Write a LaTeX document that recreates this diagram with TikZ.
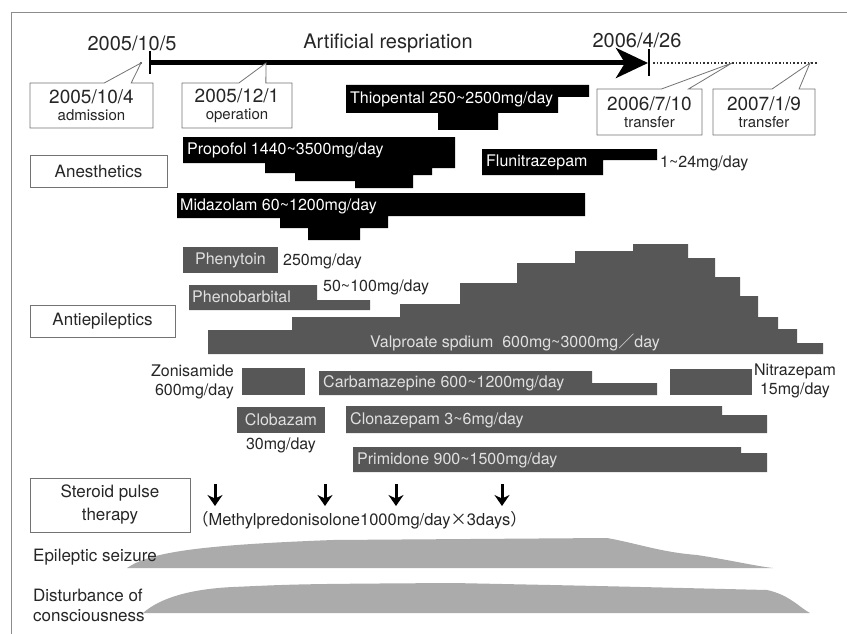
\documentclass[tikz,border=0pt]{standalone}
\usepackage{fontspec}
\setmainfont{TeX Gyre Heros}
\newfontfamily\cjk{Noto Sans CJK JP}
\usetikzlibrary{arrows.meta,positioning,shapes.callouts}
\newcommand{\tld}{\textasciitilde}
\newcommand{\fsz}[2]{\fontsize{#1}{#2}\selectfont}

\begin{document}
\begin{tikzpicture}[x=1pt,y=-1pt,
  tag/.style={rectangle callout, draw=black!55, fill=white, line width=0.8pt,
    callout pointer width=27pt, inner sep=0pt, align=center, text=black!85},
  catbox/.style={draw=black!55, line width=0.8pt, inner sep=0pt, align=center,
    text=black!85, font=\fsz{17}{23}},
  anbar/.style={fill=black},
  epbar/.style={fill=black!66},
  barlab/.style={text=white, anchor=west, inner sep=0pt, font=\fsz{16}{18}},
  eplab/.style={text=black!12, inner sep=0pt, font=\fsz{16}{18}},
  note/.style={text=black!85, inner sep=0pt, font=\fsz{16}{19}},
  band/.style={fill=black!33},
  pulse/.style={line width=3pt, -{Stealth[length=11pt,width=15pt]}}]
  \useasboundingbox (0,0) rectangle (847,634);
  % frame
  \draw[black!45, line width=1pt] (11,634) -- (11,13) -- (847,13);

  % time line
  \coordinate (t0) at (150,63);  \coordinate (t1) at (649,63);
  \coordinate (tend) at (818,63);
  \coordinate (adm) at (141,63); \coordinate (ope) at (266,63);
  \coordinate (tr1) at (732,63); \coordinate (tr2) at (810,63);
  \node[note, font=\fsz{20}{22}] (d0) at (132,43) {2005/10/5};
  \node[note, font=\fsz{20}{22}] (resp) at (388,43) {Artificial respriation};
  \node[note, font=\fsz{20}{22}] (d1) at (637,40) {2006/4/26};
  \draw[line width=5pt, -{Stealth[length=32pt,width=30pt,inset=9pt]}] (t0) -- ([xshift=-1pt]t1);
  \draw[line width=2pt] ([yshift=-11pt]t0) -- ([yshift=12pt]t0);
  \draw[line width=2pt] ([yshift=-13pt]t1) -- ([yshift=14pt]t1);
  \draw[dotted, line width=1.6pt, black!80] ([xshift=4pt]t1) -- (tend);
  \fill[black!80] (adm) circle (1.2pt);

  % callouts
  \node[tag, minimum width=123pt, minimum height=45pt, callout absolute pointer={(adm)}]
    (admbox) at (91.5,105.5) {\fsz{19}{19}2005/10/4\\[5pt]\fsz{15}{17}admission};
  \node[tag, minimum width=110pt, minimum height=45pt, callout absolute pointer={(ope)}]
    (opebox) at (237,105.5) {\fsz{19}{19}2005/12/1\\[5pt]\fsz{15}{17}operation};
  \node[tag, minimum width=105pt, minimum height=46pt, callout absolute pointer={(tr1)}]
    (tr1box) at (649.5,112) {\fsz{19}{19}2006/7/10\\[5pt]\fsz{15}{17}transfer};
  \node[tag, minimum width=102pt, minimum height=46pt, callout absolute pointer={(tr2)}]
    (tr2box) at (764,112) {\fsz{19}{19}2007/1/9\\[5pt]\fsz{15}{17}transfer};

  % categories
  \node[catbox, minimum width=137pt, minimum height=32pt] (anest) at (98.5,171) {Anesthetics};
  \node[catbox, minimum width=145pt, minimum height=32pt] (antiep) at (102.5,321) {Antiepileptics};
  \node[catbox, minimum width=160pt, minimum height=54pt] (steroid) at (110,505) {Steroid pulse\\therapy};

  % anesthetics
  \fill[anbar] (346,85) -- (589,85) -- (589,97) -- (558,97) -- (558,113) -- (498,113)
    -- (498,130) -- (438,130) -- (438,113) -- (346,113) -- cycle;
  \node[barlab] (thio) at (350,99) {Thiopental 250\tld2500mg/day};
  \fill[anbar] (183,137) -- (455,137) -- (455,168) -- (432,168) -- (432,175) -- (413,175)
    -- (413,188) -- (355,188) -- (355,181) -- (295,181) -- (295,173) -- (265,173)
    -- (265,163) -- (183,163) -- cycle;
  \node[barlab] (prop) at (187,150) {Propofol 1440\tld3500mg/day};
  \fill[anbar] (482,149) -- (657,149) -- (657,160) -- (603,160) -- (603,175) -- (482,175) -- cycle;
  \node[barlab] (flun) at (486,162) {Flunitrazepam};
  \node[note, anchor=west] (flundose) at (660,163) {1\tld24mg/day};
  \fill[anbar] (177,193) -- (585,193) -- (585,216) -- (388,216) -- (388,228) -- (360,228)
    -- (360,240) -- (308,240) -- (308,228) -- (280,228) -- (280,218) -- (177,218) -- cycle;
  \node[barlab] (mida) at (180,206) {Midazolam 60\tld1200mg/day};

  % antiepileptics
  \fill[epbar] (183,247) rectangle (278,273);
  \node[eplab] (phen) at (230.5,260) {Phenytoin};
  \node[note, anchor=west] (phendose) at (283,261) {250mg/day};
  \fill[epbar] (189,285) -- (317,285) -- (317,300) -- (370,300) -- (370,310) -- (189,310) -- cycle;
  \node[eplab, anchor=west] (pheno) at (192,297) {Phenobarbital};
  \node[note, anchor=west] (phenodose) at (323,287) {50\tld100mg/day};
  \fill[epbar] (208,354) |- (292,330) |- (400,317) |- (460,304) |- (517,283) |- (575,263)
    |- (633,251) |- (688,244) |- (715,258) |- (740,277) |- (758,296) |- (778,317)
    |- (797,329) |- (823,343) -- (823,354) -- cycle;
  \node[eplab] (valp) at (515,342) {Valproate spdium\ \ 600mg\tld3000mg{\cjk ／}day};
  \fill[epbar] (242,368) rectangle (305,395);
  \node[note, anchor=east, align=right] (zoni) at (234,382) {Zonisamide\\600mg/day};
  \fill[epbar] (319,371) -- (592,371) -- (592,383) -- (657,383) -- (657,395) -- (319,395) -- cycle;
  \node[eplab, anchor=west] (carb) at (323,383) {Carbamazepine 600\tld1200mg/day};
  \fill[epbar] (670,369) rectangle (752,395);
  \node[note, align=center] (nitr) at (795,381) {Nitrazepam\\15mg/day};
  \fill[epbar] (237,407) rectangle (325,433);
  \node[eplab] (clob) at (281,420) {Clobazam};
  \node[note] (clobdose) at (281,445) {30mg/day};
  \fill[epbar] (346,406) -- (722,406) -- (722,415) -- (767,415) -- (767,433) -- (346,433) -- cycle;
  \node[eplab, anchor=west] (clon) at (350,420) {Clonazepam 3\tld6mg/day};
  \fill[epbar] (353,447) -- (741,447) -- (741,453) -- (767,453) -- (767,472) -- (353,472) -- cycle;
  \node[eplab, anchor=west] (prim) at (357,460) {Primidone 900\tld1500mg/day};

  % steroid pulses
  \foreach \x [count=\i] in {215,325,396,502} {
    \coordinate (s\i) at (\x,484);
    \draw[pulse] (s\i) -- ++(0,22);
  }
  \node[note, anchor=west, font=\fsz{16.5}{19}] (methyl) at (192,520)
    {{\cjk （}Methylpredonisolone1000mg/day{\cjk ×}3days{\cjk ）}};

  % clinical course
  \fill[band] (127,568) .. controls (150,552) and (200,545) .. (333,540) -- (607,538)
    .. controls (640,544) and (660,552) .. (697,555) .. controls (730,560) and (755,566)
    .. (773,568) -- cycle;
  \node[note, anchor=west, font=\fsz{17}{20}] (seiz) at (33,557) {Epileptic seizure};
  \fill[band] (143,613) .. controls (160,598) and (190,589) .. (233,587)
    .. controls (300,584) .. (453,583) .. controls (600,586) .. (767,590)
    .. controls (790,595) and (800,608) .. (810,613) -- cycle;
  \node[note, anchor=west, align=left, font=\fsz{17}{20}] (cons) at (33,605) {Disturbance of\\consciousness};
\end{tikzpicture}
\end{document}
